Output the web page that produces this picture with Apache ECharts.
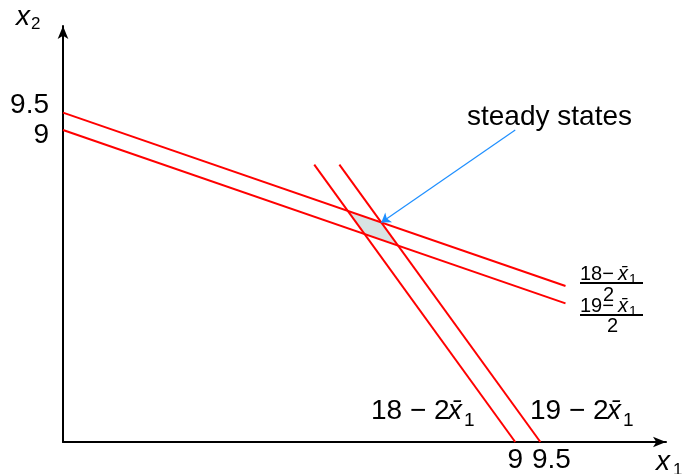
<!DOCTYPE html>
<html><head><meta charset="utf-8">
<script src="https://cdn.jsdelivr.net/npm/echarts@6/dist/echarts.min.js"></script>
<style>html,body{margin:0;padding:0;background:#fff}#c{width:684px;height:474px}</style>
</head><body><div id="c"></div>
<script>
// ---- data ----
const xTicks = [9, 9.5];
const yTicks = [9, 9.5];
const flatHigh = [[0, 9.5], [10, 4.5]];   // x2 = (19 - x1)/2
const flatLow = [[0, 9], [10, 4]];        // x2 = (18 - x1)/2
const steepLow = [[5, 8], [9, 0]];        // x2 = 18 - 2 x1
const steepHigh = [[5.5, 8], [9.5, 0]];   // x2 = 19 - 2 x1
const arrowFrom = [9, 9];
const axisMax = [12, 12];

function lineParams(seg) { const [[x0, y0], [x1, y1]] = seg; const m = (y1 - y0) / (x1 - x0); return { m, b: y0 - m * x0 }; }
function intersect(s1, s2) { const a = lineParams(s1), b = lineParams(s2); const x = (b.b - a.b) / (a.m - b.m); return [x, a.m * x + a.b]; }
const region = [intersect(steepLow, flatLow), intersect(steepLow, flatHigh), intersect(steepHigh, flatHigh), intersect(steepHigh, flatLow)];
const arrowTo = intersect(steepHigh, flatHigh);

const FF = 'Liberation Sans';
const chart = echarts.init(document.getElementById('c'), null, { renderer: 'canvas' });
const redLine = (d) => ({ type: 'line', data: d, showSymbol: false, symbol: 'none', silent: true, z: 3,
  lineStyle: { color: '#ff0000', width: 2 } });

function txt(text, x, y, size, italic, extra) {
  return Object.assign({ type: 'text', x: x, y: y, silent: true,
    style: { text: text, fill: '#000', font: (italic ? 'italic ' : '') + size + 'px "' + FF + '"', textAlign: 'left', textVerticalAlign: 'bottom' } }, extra || {});
}
function bar(x1, x2, y) { return { type: 'line', silent: true, shape: { x1: x1, y1: y, x2: x2, y2: y }, style: { stroke: '#000', lineWidth: 2.2 } }; }

chart.setOption({
  animation: false,
  grid: { left: 63, right: 18, top: 26, bottom: 28 },
  xAxis: {
    type: 'value', min: 0, max: axisMax[0], splitLine: { show: false },
    axisLine: { lineStyle: { color: '#000', width: 2 }, symbol: ['none', 'arrow'], symbolSize: [8, 13] },
    axisTick: { show: false },
    axisLabel: { customValues: xTicks, margin: 4, color: '#000', fontFamily: FF, fontSize: 28,
      formatter: v => v === 9.5 ? '{r|9.5}' : '{c|' + v + '}',
      rich: { r: { fontFamily: FF, fontSize: 28, padding: [0, 0, 0, 22] }, c: { fontFamily: FF, fontSize: 28 } } }
  },
  yAxis: {
    type: 'value', min: 0, max: axisMax[1], splitLine: { show: false },
    axisLine: { lineStyle: { color: '#000', width: 2 }, symbol: ['none', 'arrow'], symbolSize: [8, 13] },
    axisTick: { show: false },
    axisLabel: { customValues: yTicks, margin: 14, color: '#000', fontFamily: FF, fontSize: 28,
      formatter: v => v === 9.5 ? '{u|9.5}' : '{d|' + v + '}',
      rich: { u: { fontFamily: FF, fontSize: 28, padding: [0, 0, 14, 0] }, d: { fontFamily: FF, fontSize: 28, padding: [11, 0, 0, 0] } } }
  },
  series: [
    { type: 'custom', silent: true, z: 1, data: [[0, 0]],
      renderItem: (p, api) => ({ type: 'polygon', shape: { points: region.map(pt => api.coord(pt)) }, style: { fill: '#d8e3e3' } }) },
    redLine(flatHigh), redLine(flatLow), redLine(steepLow), redLine(steepHigh),
    { type: 'lines', coordinateSystem: 'cartesian2d', silent: true, z: 4,
      symbol: ['none', 'arrow'], symbolSize: 9,
      lineStyle: { color: '#1e8fff', width: 1.2, opacity: 1 },
      data: [{ coords: [arrowFrom, arrowTo] }] }
  ],
  graphic: [
    txt('steady states', 467, 131, 28, false),
    // axis titles
    txt('x', 16, 31, 28, true), txt('2', 31, 33, 17, false),
    txt('x', 656, 476, 28, true), txt('1', 673, 479, 17, false),
    // 18 - 2x1, 19 - 2x1
    txt('18 \u2212 2', 371, 425, 28, false), txt('x\u0304', 448, 425, 28, true), txt('1', 464, 430, 19, false),
    txt('19 \u2212 2', 530, 425, 28, false), txt('x\u0304', 607, 425, 28, true), txt('1', 623, 430, 19, false),
    // fractions
    txt('18\u2212', 580, 284, 20, false), txt('x\u0304', 618, 284, 20, true), txt('1', 629, 287, 14, false),
    bar(580, 643, 283),
    txt('2', 603, 305, 20, false),
    txt('19\u2212', 580, 316, 20, false), txt('x\u0304', 618, 316, 20, true), txt('1', 629, 319, 14, false),
    bar(580, 643, 315),
    txt('2', 607, 336, 20, false)
  ]
});
</script></body></html>
